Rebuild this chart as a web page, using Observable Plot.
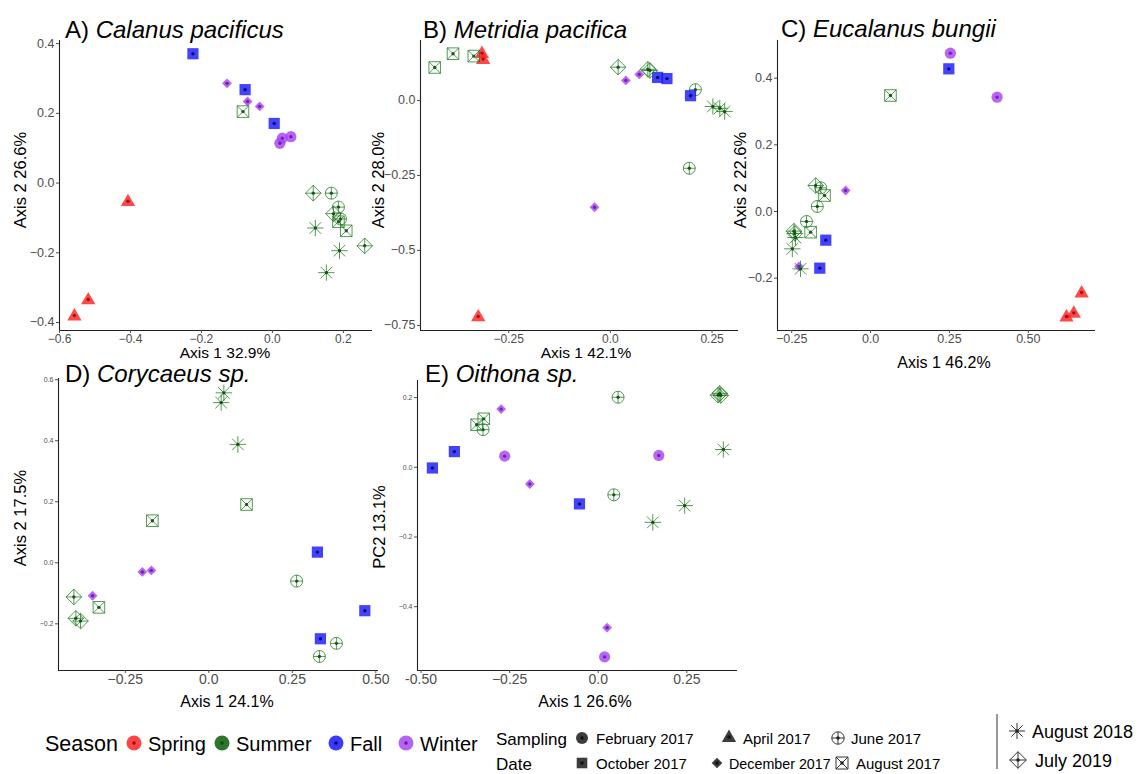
<!DOCTYPE html>
<html><head><meta charset="utf-8">
<script src="https://cdn.jsdelivr.net/npm/d3@7"></script>
<script src="https://cdn.jsdelivr.net/npm/@observablehq/plot@0.6"></script>
<style>
body{margin:0;background:#fff;}
#chart{position:relative;width:1147px;height:774px;overflow:hidden;font-family:"Liberation Sans",Arial,Helvetica,sans-serif;}
</style></head><body><div id="chart"></div>
<script>
// ---------------- data ----------------
const dateCodes   = ["Feb17","Apr17","Jun17","Oct17","Dec17","Aug17","Aug18","Jul19"];
const dateLabels  = ["February 2017","April 2017","June 2017","October 2017","December 2017","August 2017","August 2018","July 2019"];
const dateSeasons = ["Winter","Spring","Summer","Fall","Winter","Summer","Summer","Summer"];
const seasons     = ["Spring","Summer","Fall","Winter"];

// A) Calanus pacificus  [date, axis1, axis2]
const calanus = [
  ["Oct17",-0.224,0.371],["Oct17",-0.077,0.268],["Oct17",0.005,0.171],
  ["Dec17",-0.128,0.286],["Dec17",-0.070,0.234],["Dec17",-0.036,0.220],
  ["Feb17",0.021,0.114],["Feb17",0.028,0.129],["Feb17",0.052,0.133],
  ["Aug17",-0.083,0.205],["Aug17",0.186,-0.111],["Aug17",0.208,-0.137],
  ["Jul19",0.115,-0.029],["Jul19",0.172,-0.088],["Jul19",0.260,-0.180],
  ["Jun17",0.166,-0.029],["Jun17",0.186,-0.069],["Jun17",0.192,-0.103],
  ["Aug18",0.121,-0.129],["Aug18",0.189,-0.194],["Aug18",0.152,-0.257],
  ["Apr17",-0.407,-0.052],["Apr17",-0.519,-0.334],["Apr17",-0.558,-0.380]
];
// B) Metridia pacifica
const metridia = [
  ["Aug17",-0.432,0.110],["Aug17",-0.387,0.156],["Aug17",-0.336,0.148],
  ["Apr17",-0.316,0.158],["Apr17",-0.313,0.138],["Apr17",-0.325,-0.720],
  ["Jul19",0.019,0.111],["Jul19",0.097,0.100],["Jul19",0.092,0.104],
  ["Dec17",0.038,0.067],["Dec17",0.071,0.087],["Dec17",-0.039,-0.356],
  ["Oct17",0.116,0.077],["Oct17",0.139,0.073],["Oct17",0.197,0.016],
  ["Jun17",0.209,0.036],["Jun17",0.194,-0.226],
  ["Aug18",0.252,-0.020],["Aug18",0.269,-0.026],["Aug18",0.281,-0.037]
];
// C) Eucalanus bungii
const eucalanus = [
  ["Feb17",0.253,0.475],["Feb17",0.401,0.343],
  ["Oct17",0.248,0.428],["Oct17",-0.142,-0.086],["Oct17",-0.161,-0.170],
  ["Aug17",0.063,0.348],["Aug17",-0.146,0.048],["Aug17",-0.190,-0.062],
  ["Dec17",-0.079,0.063],["Dec17",-0.227,-0.165],
  ["Apr17",0.669,-0.243],["Apr17",0.644,-0.304],["Apr17",0.621,-0.315],
  ["Jun17",-0.158,0.071],["Jun17",-0.169,0.015],["Jun17",-0.203,-0.030],
  ["Jul19",-0.174,0.078],["Jul19",-0.243,-0.059],["Jul19",-0.240,-0.066],
  ["Aug18",-0.238,-0.078],["Aug18",-0.248,-0.112],["Aug18",-0.222,-0.172]
];
// D) Corycaeus sp.
const corycaeus = [
  ["Aug18",0.045,0.557],["Aug18",0.037,0.525],["Aug18",0.087,0.388],
  ["Aug17",0.113,0.191],["Aug17",-0.169,0.138],["Aug17",-0.329,-0.146],
  ["Oct17",0.325,0.035],["Oct17",0.467,-0.157],["Oct17",0.334,-0.249],
  ["Dec17",-0.199,-0.030],["Dec17",-0.172,-0.025],["Dec17",-0.348,-0.108],
  ["Jun17",0.263,-0.060],["Jun17",0.382,-0.264],["Jun17",0.331,-0.307],
  ["Jul19",-0.404,-0.112],["Jul19",-0.398,-0.182],["Jul19",-0.384,-0.191]
];
// E) Oithona sp.
const oithona = [
  ["Oct17",-0.468,-0.002],["Oct17",-0.406,0.045],["Oct17",-0.053,-0.105],
  ["Aug17",-0.343,0.122],["Aug17",-0.323,0.139],
  ["Jun17",-0.325,0.108],["Jun17",0.056,0.201],["Jun17",0.044,-0.079],
  ["Dec17",-0.274,0.167],["Dec17",-0.193,-0.048],["Dec17",0.025,-0.460],
  ["Feb17",-0.264,0.032],["Feb17",0.171,0.034],["Feb17",0.018,-0.544],
  ["Jul19",0.343,0.212],["Jul19",0.338,0.207],["Jul19",0.346,0.206],
  ["Aug18",0.353,0.051],["Aug18",0.244,-0.110],["Aug18",0.154,-0.158]
];

// tick values and labels
const xTicksA = [-0.6,-0.4,-0.2,0,0.2],   xLabA = ["\u22120.6","\u22120.4","\u22120.2","0.0","0.2"];
const yTicksA = [-0.4,-0.2,0,0.2,0.4],    yLabA = ["\u22120.4","\u22120.2","0.0","0.2","0.4"];
const xTicksB = [-0.25,0,0.25],           xLabB = ["\u22120.25","0.0","0.25"];
const yTicksB = [-0.75,-0.5,-0.25,0],     yLabB = ["\u22120.75","\u22120.5","\u22120.25","0.0"];
const xTicksC = [-0.25,0,0.25,0.5],       xLabC = ["\u22120.25","0.0","0.25","0.50"];
const yTicksC = [-0.2,0,0.2,0.4],         yLabC = ["\u22120.2","0.0","0.2","0.4"];
const xTicksD = [-0.25,0,0.25,0.5],       xLabD = ["\u22120.25","0.0","0.25","0.50"];
const yTicksD = [-0.2,0,0.2,0.4,0.6],     yLabD = ["\u22120.2","0.0","0.2","0.4","0.6"];
const xTicksE = [-0.5,-0.25,0,0.25],      xLabE = ["-0.50","\u22120.25","0.0","0.25"];
const yTicksE = [-0.4,-0.2,0,0.2],        yLabE = ["\u22120.4","\u22120.2","0.0","0.2"];

// ---------------- styles ----------------
const FONT = '"Liberation Sans", Arial, Helvetica, sans-serif';
const seasonFill  = {Spring:"#ff2020", Summer:"#1f7a1f", Fall:"#1a1aff", Winter:"#a943f0"};
const seasonDot   = {Spring:"#9b0a0a", Summer:"#0d4f0d", Fall:"#05055a", Winter:"#6a1aa8"};
const legendFill  = {Spring:"#ff4545", Summer:"#2f742f", Fall:"#3a3aff", Winter:"#b463f2"};

function symFactory(fn){ return {draw(c, s){ fn(c, Math.sqrt(s/Math.PI)); }}; }
const SYM = {
  circle: symFactory((c,r)=>{c.moveTo(r,0); c.arc(0,0,r,0,2*Math.PI);}),
  triangle: symFactory((c,r)=>{c.moveTo(0,-r*1.15); c.lineTo(r*1.1,r*0.75); c.lineTo(-r*1.1,r*0.75); c.closePath();}),
  square: symFactory((c,r)=>{c.moveTo(-r,-r); c.lineTo(r,-r); c.lineTo(r,r); c.lineTo(-r,r); c.closePath();}),
  diamond: symFactory((c,r)=>{c.moveTo(0,-r); c.lineTo(r,0); c.lineTo(0,r); c.lineTo(-r,0); c.closePath();}),
  circlePlus: symFactory((c,r)=>{c.moveTo(r,0); c.arc(0,0,r,0,2*Math.PI); c.moveTo(-r,0); c.lineTo(r,0); c.moveTo(0,-r); c.lineTo(0,r);}),
  squareX: symFactory((c,r)=>{c.moveTo(-r,-r); c.lineTo(r,-r); c.lineTo(r,r); c.lineTo(-r,r); c.closePath(); c.moveTo(-r,-r); c.lineTo(r,r); c.moveTo(-r,r); c.lineTo(r,-r);}),
  asterisk: symFactory((c,r)=>{const d=r*Math.SQRT1_2; c.moveTo(-r,0); c.lineTo(r,0); c.moveTo(0,-r); c.lineTo(0,r); c.moveTo(-d,-d); c.lineTo(d,d); c.moveTo(-d,d); c.lineTo(d,-d);}),
  diamondPlus: symFactory((c,r)=>{c.moveTo(0,-r); c.lineTo(r,0); c.lineTo(0,r); c.lineTo(-r,0); c.closePath(); c.moveTo(-r,0); c.lineTo(r,0); c.moveTo(0,-r); c.lineTo(0,r);})
};
const dateSymbol = {Feb17:"circle", Apr17:"triangle", Jun17:"circlePlus", Oct17:"square", Dec17:"diamond", Aug17:"squareX", Aug18:"asterisk", Jul19:"diamondPlus"};
const filledSym = {circle:true, triangle:true, square:true, diamond:true};
const symR = {circle:5.6, triangle:6.5, square:5.6, diamond:4.9, circlePlus:6, squareX:5.8, asterisk:8.2, diamondPlus:7.8};

const chart = document.getElementById("chart");

function panel(cfg){
  const marks = [
    Plot.ruleX([cfg.xDomain[0]], {stroke:"#222", strokeWidth:1.1}),
    Plot.ruleY([cfg.yDomain[0]], {stroke:"#222", strokeWidth:1.1}),
    Plot.axisX({ticks: cfg.xTicks, tickFormat: d => cfg.xLab[cfg.xTicks.indexOf(d)], tickSize:3, tickPadding:1, fontSize: cfg.xFont, color:"#4d4d4d", label:null}),
    Plot.axisY({ticks: cfg.yTicks, tickFormat: d => cfg.yLab[cfg.yTicks.indexOf(d)], tickSize:3, tickPadding:2, fontSize: cfg.yFont, color:"#4d4d4d", label:null})
  ];
  dateCodes.forEach((code, i) => {
    const rows = cfg.data.filter(r => r[0] === code);
    if (!rows.length) return;
    const season = dateSeasons[i];
    const sname = dateSymbol[code];
    const base = {x: r => r[1], y: r => r[2], symbol: SYM[sname], r: symR[sname]};
    if (filledSym[sname]) {
      marks.push(Plot.dot(rows, {...base, fill: seasonFill[season], fillOpacity: 0.82, stroke: "none"}));
    } else {
      marks.push(Plot.dot(rows, {...base, fill: "none", stroke: seasonFill[season], strokeOpacity: 0.8, strokeWidth: 0.95}));
    }
    marks.push(Plot.dot(rows, {x: r => r[1], y: r => r[2], r: 1.7, fill: seasonDot[season], fillOpacity: 0.9, stroke: "none"}));
  });
  const svg = Plot.plot({
    width: cfg.w, height: cfg.h,
    marginLeft: cfg.ml, marginRight: cfg.mr, marginTop: cfg.mt, marginBottom: cfg.mb,
    x: {domain: cfg.xDomain}, y: {domain: cfg.yDomain},
    style: {fontFamily: FONT, background: "none", overflow: "visible", position: "absolute", left: cfg.left + "px", top: cfg.top + "px"},
    marks
  });
  chart.appendChild(svg);
}

panel({data: calanus, left:0, top:0, w:380, h:370, ml:59, mr:8, mt:40, mb:40,
  xDomain:[-0.6,0.282], yDomain:[-0.423,0.409], xTicks:xTicksA, xLab:xLabA, yTicks:yTicksA, yLab:yLabA, xFont:12, yFont:12.5});
panel({data: metridia, left:380, top:0, w:380, h:370, ml:40, mr:22, mt:40, mb:40,
  xDomain:[-0.467,0.315], yDomain:[-0.767,0.2], xTicks:xTicksB, xLab:xLabB, yTicks:yTicksB, yLab:yLabB, xFont:12, yFont:12.5});
panel({data: eucalanus, left:740, top:0, w:407, h:370, ml:37, mr:52, mt:40, mb:40,
  xDomain:[-0.295,0.713], yDomain:[-0.357,0.513], xTicks:xTicksC, xLab:xLabC, yTicks:yTicksC, yLab:yLabC, xFont:12.5, yFont:12.5});
panel({data: corycaeus, left:0, top:360, w:380, h:340, ml:58, mr:2, mt:18, mb:30,
  xDomain:[-0.45,0.508], yDomain:[-0.353,0.604], xTicks:xTicksD, xLab:xLabD, yTicks:yTicksD, yLab:yLabD, xFont:14, yFont:7});
panel({data: oithona, left:380, top:360, w:380, h:340, ml:37, mr:23, mt:20, mb:30,
  xDomain:[-0.51,0.393], yDomain:[-0.583,0.249], xTicks:xTicksE, xLab:xLabE, yTicks:yTicksE, yLab:yLabE, xFont:14, yFont:7});

// ---------------- titles, axis labels, legend ----------------
const ov = d3.select(chart).append("svg")
  .attr("width",1147).attr("height",774)
  .style("position","absolute").style("left","0px").style("top","0px")
  .style("font-family", FONT).style("pointer-events","none");

const titles = [
  ["A) ","Calanus pacificus",65,38],
  ["B) ","Metridia pacifica",423,38],
  ["C) ","Eucalanus bungii",781,37],
  ["D) ","Corycaeus sp.",65,382],
  ["E) ","Oithona sp.",425,382]
];
titles.forEach(([p, sp, x, y]) => {
  const t = ov.append("text").attr("x",x).attr("y",y).attr("font-size",24).attr("fill","#000");
  t.append("tspan").text(p);
  t.append("tspan").attr("font-style","italic").text(sp);
});

const xLabels = [["Axis 1 32.9%",225,358,15.5],["Axis 1 42.1%",586,358,15.5],["Axis 1 46.2%",944,368,16],["Axis 1 24.1%",227,707,16],["Axis 1 26.6%",585,707,16]];
xLabels.forEach(([s,x,y,fs]) => ov.append("text").attr("x",x).attr("y",y).attr("text-anchor","middle").attr("font-size",fs).attr("fill","#000").text(s));
const yLabels = [["Axis 2 26.6%",26,180],["Axis 2 28.0%",384,180],["Axis 2 22.6%",746,180],["Axis 2 17.5%",26,518],["PC2 13.1%",385,527]];
yLabels.forEach(([s,x,y]) => ov.append("text").attr("transform",`translate(${x},${y}) rotate(-90)`).attr("text-anchor","middle").attr("font-size",16.5).attr("fill","#000").text(s));

function icon(name, x, y, r, fill, stroke, dot){
  const p = d3.path(); SYM[name].draw(p, Math.PI*r*r);
  ov.append("path").attr("d", p.toString()).attr("transform",`translate(${x},${y})`)
    .attr("fill", fill).attr("stroke", stroke).attr("stroke-width", 1);
  if (dot) ov.append("circle").attr("cx",x).attr("cy",y).attr("r",1.8).attr("fill",dot);
}

// Season legend
ov.append("text").attr("x",45).attr("y",751).attr("font-size",21.5).text("Season");
const seasonKeyX = [134,222,336,406];
seasons.forEach((s,i) => {
  icon("circle", seasonKeyX[i], 743, 7.5, legendFill[s], "none", seasonDot[s]);
  ov.append("text").attr("x", seasonKeyX[i]+14).attr("y",751).attr("font-size",20).text(s);
});

// Sampling date legend
ov.append("text").attr("x",496).attr("y",745).attr("font-size",17).text("Sampling");
ov.append("text").attr("x",496).attr("y",770).attr("font-size",17).text("Date");
const keyPos = { // [iconX, iconY, labelX, labelY, fontSize]
  Feb17:[582,738,596,744,15], Apr17:[729,737,743,744,15], Jun17:[838,738,851,744,15],
  Oct17:[582,763,596,769,15], Dec17:[717,763,729,769,14.3], Aug17:[842,763,856,769,15],
  Aug18:[1017,731,1032,738,18], Jul19:[1018,760,1035,767,18]
};
const legR = {circle:6, triangle:6.5, square:5.3, diamond:5.3, circlePlus:6.2, squareX:6, asterisk:8, diamondPlus:8.3};
dateCodes.forEach((code,i) => {
  const [ix, iy, lx, ly, fs] = keyPos[code];
  const sname = dateSymbol[code];
  if (filledSym[sname]) icon(sname, ix, iy, legR[sname], "#3d3d3d", "none", "#111");
  else icon(sname, ix, iy, legR[sname], "none", "#333", "#222");
  ov.append("text").attr("x",lx).attr("y",ly).attr("font-size",fs).text(dateLabels[i]);
});
ov.append("line").attr("x1",997).attr("x2",997).attr("y1",714).attr("y2",769).attr("stroke","#333").attr("stroke-width",1);
</script>
</body></html>
